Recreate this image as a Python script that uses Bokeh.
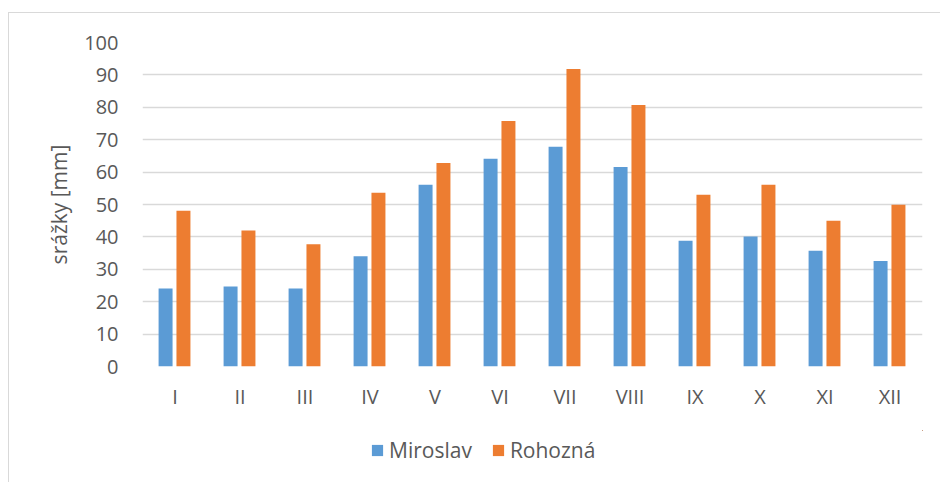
from bokeh.plotting import figure
from bokeh.layouts import column
from bokeh.models import (ColumnDataSource, FactorRange, Range1d, FixedTicker,
                          Legend, LegendItem, InlineStyleSheet)
from bokeh.transform import dodge
from bokeh.embed import file_html
from bokeh.resources import INLINE

months = ["I", "II", "III", "IV", "V", "VI", "VII", "VIII", "IX", "X", "XI", "XII"]
miroslav = [24.1, 24.7, 24.1, 34.0, 56.1, 64.1, 67.8, 61.6, 38.8, 40.1, 35.7, 32.6]
rohozna = [48.1, 42.0, 37.7, 53.6, 62.8, 75.8, 91.8, 80.7, 53.0, 56.1, 45.0, 49.9]
y_ticks = [0, 10, 20, 30, 40, 50, 60, 70, 80, 90, 100]
series_names = ["Miroslav", "Rohozná"]
y_title = "srážky [mm]"

BLUE = "#5B9BD5"
ORANGE = "#ED7D31"
TEXT = "#595959"
GRID = "#D9D9D9"
FONT = "Open Sans"

src = ColumnDataSource(dict(m=months, a=miroslav, b=rohozna))

# ---- main chart ----
p = figure(width=940, height=430, x_range=FactorRange(*months, range_padding=0),
           y_range=Range1d(0, 100), output_backend="svg", toolbar_location=None,
           min_border_left=142, min_border_right=18, min_border_top=42,
           min_border_bottom=64)

p.vbar(x=dodge("m", -0.145, range=p.x_range), top="a", width=0.215, source=src,
       fill_color=BLUE, line_color=None)
p.vbar(x=dodge("m", 0.13, range=p.x_range), top="b", width=0.215, source=src,
       fill_color=ORANGE, line_color=None)

p.outline_line_color = None
p.background_fill_color = "white"
p.border_fill_color = "white"
p.xgrid.grid_line_color = None
p.ygrid.grid_line_color = GRID
p.ygrid.grid_line_width = 1.5
p.yaxis.ticker = FixedTicker(ticks=y_ticks)

for ax in (p.xaxis[0], p.yaxis[0]):
    ax.axis_line_color = None
    ax.major_tick_line_color = None
    ax.minor_tick_line_color = None
    ax.major_tick_out = 0
    ax.major_tick_in = 0
    ax.major_label_text_font = FONT
    ax.major_label_text_font_size = "20px"
    ax.major_label_text_color = TEXT

p.yaxis.major_label_standoff = 24
p.xaxis.major_label_standoff = 16
p.yaxis.axis_label = y_title
p.yaxis.axis_label_text_font = FONT
p.yaxis.axis_label_text_font_size = "21px"
p.yaxis.axis_label_text_font_style = "normal"
p.yaxis.axis_label_text_color = TEXT
p.yaxis.axis_label_standoff = 8

# ---- legend strip (key glyphs only; its bars have zero height and lie off-range) ----
lg = figure(width=940, height=52, x_range=Range1d(0, 1), y_range=Range1d(0, 1),
            output_backend="svg", toolbar_location=None,
            x_axis_type=None, y_axis_type=None,
            min_border_left=0, min_border_right=0, min_border_top=0,
            min_border_bottom=0)
lg.outline_line_color = None
lg.xgrid.grid_line_color = None
lg.ygrid.grid_line_color = None
lg.border_fill_color = "white"
lg.background_fill_color = "white"
k1 = lg.vbar(x="a", top="a", bottom="a", width=0.1, source=src,
             fill_color=BLUE, line_color=None)
k2 = lg.vbar(x="b", top="b", bottom="b", width=0.1, source=src,
             fill_color=ORANGE, line_color=None)

legend = Legend(items=[LegendItem(label=series_names[0], renderers=[k1]),
                       LegendItem(label=series_names[1], renderers=[k2])],
                orientation="horizontal", location=(228, 18),
                glyph_width=14, glyph_height=14, label_standoff=5, spacing=19,
                padding=0, margin=0, border_line_color=None,
                background_fill_alpha=0,
                label_text_font=FONT, label_text_font_size="21px",
                label_text_color=TEXT)
lg.add_layout(legend, "center")

border_css = InlineStyleSheet(css="""
:host::after {
  content: ""; position: absolute; left: 8px; top: 12px; right: -20px; bottom: -20px;
  border-left: 1.5px solid #D9D9D9; border-top: 1.5px solid #D9D9D9;
  pointer-events: none;
}
""")

layout = column(p, lg, spacing=0, stylesheets=[border_css])

open("out.html", "w").write(file_html(layout, INLINE))
